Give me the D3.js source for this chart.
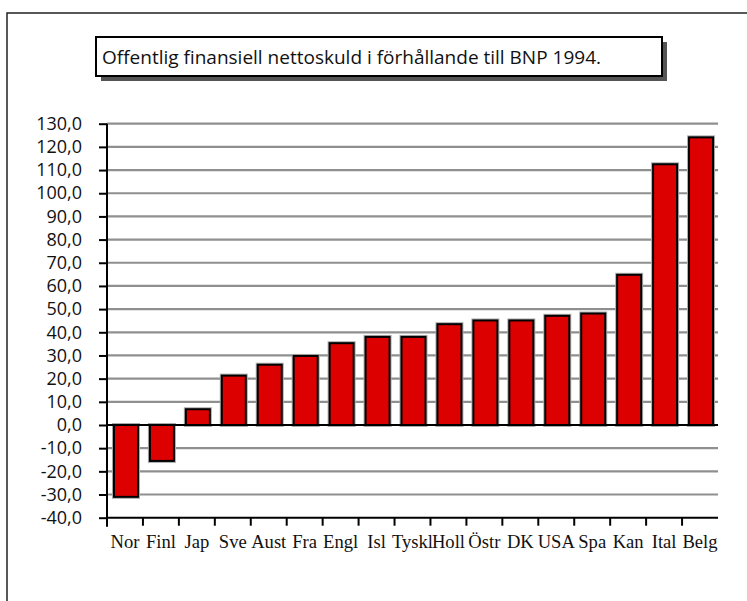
<!DOCTYPE html>
<html><head><meta charset="utf-8">
<script src="https://cdn.jsdelivr.net/npm/d3@7"></script>
<style>body{margin:0;background:#fff} svg{display:block}</style>
</head><body>
<svg id="chart" width="747" height="601"></svg>
<script>
// Net public financial debt as a share of GDP, 1994
const titleText = "Offentlig finansiell nettoskuld i förhållande till BNP 1994.";
const countries = ["Nor","Finl","Jap","Sve","Aust","Fra","Engl","Isl","Tyskl","Holl","Östr","DK","USA","Spa","Kan","Ital","Belg"];
const debt = [-31.0,-15.5,6.8,21.3,26.0,29.8,35.3,38.0,38.0,43.5,45.1,45.1,47.1,48.1,64.8,112.5,124.1];
const yTicks = d3.range(-40, 131, 10);

const svg = d3.select("#chart");
const sansFont = "'Open Sans', 'DejaVu Sans', sans-serif";
const serifFont = "'Liberation Serif', 'Times New Roman', serif";

const plot = {left: 107, right: 718, top: 123.7, bottom: 517.7};

// Swedish number style: comma decimal, plain hyphen minus
const sv = d3.formatLocale({decimal: ",", thousands: " ", grouping: [3], currency: ["", ""], minus: "-"});
const fmt = sv.format(".1f");

const x = d3.scaleBand().domain(countries).range([plot.left, plot.right]).padding(0);
const y = d3.scaleLinear().domain([-40, 130]).range([plot.bottom, plot.top]);

// Outer frame
svg.append("rect").attr("x", 7).attr("y", 13).attr("width", 800).attr("height", 700)
  .attr("fill", "none").attr("stroke", "#222").attr("stroke-width", 1.5);

// Title box with drop shadow
const tb = {x: 96, y: 37, w: 566, h: 39};
svg.append("rect").attr("x", tb.x + 5).attr("y", tb.y + 5).attr("width", tb.w).attr("height", tb.h)
  .attr("fill", "#555");
svg.append("rect").attr("x", tb.x).attr("y", tb.y).attr("width", tb.w).attr("height", tb.h)
  .attr("fill", "#fff").attr("stroke", "#000").attr("stroke-width", 2);
svg.append("text").attr("x", tb.x + 6).attr("y", tb.y + 27)
  .attr("font-family", sansFont).attr("font-size", 19).attr("fill", "#111")
  .text(titleText);

// Horizontal gridlines
svg.append("g").selectAll("line")
  .data(yTicks.filter(v => v !== -40 && v !== 0))
  .join("line")
  .attr("x1", plot.left).attr("x2", plot.right)
  .attr("y1", d => y(d)).attr("y2", d => y(d))
  .attr("stroke", "#8f8f8f").attr("stroke-width", 2.2);

// Bars
const bw = 24;
const bars = svg.append("g");
bars.selectAll("rect.halo")
  .data(countries)
  .join("rect").attr("class", "halo")
  .attr("x", (d) => x(d) + (x.bandwidth() - bw) / 2 + 1)
  .attr("width", bw)
  .attr("y", (d, i) => Math.min(y(debt[i]), y(0)))
  .attr("height", (d, i) => Math.abs(y(debt[i]) - y(0)))
  .attr("fill", "none").attr("stroke", "#aaa").attr("stroke-width", 4);
bars.selectAll("rect.bar")
  .data(countries)
  .join("rect").attr("class", "bar")
  .attr("x", (d) => x(d) + (x.bandwidth() - bw) / 2 + 1)
  .attr("width", bw)
  .attr("y", (d, i) => Math.min(y(debt[i]), y(0)))
  .attr("height", (d, i) => Math.abs(y(debt[i]) - y(0)))
  .attr("fill", "#dd0000").attr("stroke", "#000").attr("stroke-width", 2);

// Zero line
svg.append("line").attr("x1", plot.left).attr("x2", plot.right)
  .attr("y1", y(0)).attr("y2", y(0)).attr("stroke", "#000").attr("stroke-width", 2);

// Y axis
const yAxis = svg.append("g").attr("transform", `translate(${plot.left},0)`)
  .call(d3.axisLeft(y).tickValues(yTicks).tickFormat(fmt).tickSize(8).tickPadding(17));
yAxis.select(".domain").attr("stroke-width", 2).attr("d", `M0,${plot.top}V${plot.bottom + 9}`);
yAxis.selectAll(".tick line").attr("stroke-width", 2);
yAxis.selectAll("text").attr("font-family", sansFont).attr("font-size", 18).attr("fill", "#111");

// X axis: ticks sit on the category boundaries
const xAxis = svg.append("g").attr("transform", `translate(0,${plot.bottom})`);
xAxis.append("line").attr("x1", plot.left).attr("x2", plot.right)
  .attr("stroke", "#000").attr("stroke-width", 2);
xAxis.selectAll("line.tick")
  .data(countries.slice(1))
  .join("line").attr("class", "tick")
  .attr("x1", d => x(d)).attr("x2", d => x(d))
  .attr("y1", 0).attr("y2", 8)
  .attr("stroke", "#000").attr("stroke-width", 2);
xAxis.selectAll("text")
  .data(countries)
  .join("text")
  .attr("x", d => x(d) + x.bandwidth() / 2)
  .attr("y", 30)
  .attr("text-anchor", "middle")
  .attr("font-family", serifFont).attr("font-size", 18.6).attr("fill", "#111")
  .text(d => d);
</script>
</body></html>
